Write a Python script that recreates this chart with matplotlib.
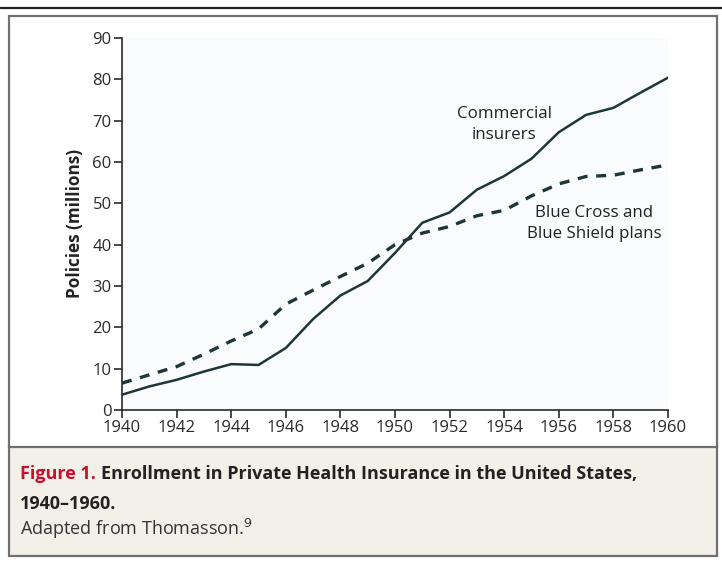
import matplotlib
matplotlib.use('Agg')
import matplotlib.pyplot as plt
from matplotlib.patches import Rectangle
from matplotlib.lines import Line2D

plt.rcParams['font.family'] = ['Open Sans', 'DejaVu Sans']

# data
years = list(range(1940, 1961))
commercial = [3.7, 5.7, 7.3, 9.3, 11.1, 10.9, 15.0, 22.0, 27.7, 31.2, 38.0,
              45.3, 47.8, 53.3, 56.6, 60.8, 67.2, 71.4, 73.1, 76.8, 80.4]
blue_cross = [6.5, 8.5, 10.5, 13.5, 16.7, 19.6, 25.6, 29.0, 32.3, 35.5, 40.0,
              42.8, 44.4, 47.0, 48.3, 51.8, 54.7, 56.5, 56.8, 58.1, 59.3]
xticks = list(range(1940, 1961, 2))
yticks = list(range(0, 91, 10))

W, H = 722, 561
fig = plt.figure(figsize=(W / 100, H / 100), dpi=100)
fig.patch.set_facecolor('white')


def fx(px):
    return px / W


def fy(py):
    return 1 - py / H


# frame: top rule, outer box, caption panel
fig.add_artist(Line2D([0, 1], [fy(8), fy(8)], color='#222222', lw=1.6))
fig.add_artist(Rectangle((fx(9), fy(447)), fx(717) - fx(9), fy(16) - fy(447),
                         facecolor='white', edgecolor='none', zorder=0))
fig.add_artist(Rectangle((fx(9), fy(556)), fx(717) - fx(9), fy(447) - fy(556),
                         facecolor='#f3f0ea', edgecolor='none', zorder=0))
fig.add_artist(Rectangle((fx(9), fy(556)), fx(717) - fx(9), fy(16) - fy(556),
                         facecolor='none', edgecolor='#707070', lw=1.6, zorder=5))
fig.add_artist(Line2D([fx(9), fx(717)], [fy(447), fy(447)], color='#707070', lw=1.6))

ax = fig.add_axes([fx(122), fy(410), fx(668) - fx(122), fy(38) - fy(410)])
ax.set_facecolor('#fafbfd')
line_col = '#1e3638'
ax.plot(years, commercial, color=line_col, lw=1.8, solid_joinstyle='round')
ax.plot(years, blue_cross, color=line_col, lw=2.4, dashes=(3.0, 2.6))

ax.set_xlim(1940, 1960)
ax.set_ylim(0, 90)
ax.set_xticks(xticks)
ax.set_yticks(yticks)
ax.tick_params(axis='both', direction='out', length=6, width=1.2, colors='#2a2a2a',
               labelsize=12, pad=1.5)
for s in ['top', 'right']:
    ax.spines[s].set_visible(False)
for s in ['left', 'bottom']:
    ax.spines[s].set_color('#2a2a2a')
    ax.spines[s].set_linewidth(1.2)
ax.set_ylabel('Policies (millions)', fontsize=12.3, fontweight='bold', color='#222222', labelpad=6)

ax.text(1954.0, 69.1, 'Commercial\ninsurers', ha='center', va='center', fontsize=12.2,
        color='#222222', linespacing=1.4)
ax.text(1957.3, 45.1, 'Blue Cross and\nBlue Shield plans', ha='center', va='center',
        fontsize=12.2, color='#222222', linespacing=1.4)

# caption
renderer = fig.canvas.get_renderer()
cap_size = 13.0
t1 = fig.text(fx(20), fy(479), 'Figure 1.', color='#c8102e', fontsize=cap_size, fontweight='bold')
bb = t1.get_window_extent(renderer)
fig.text(bb.x1 / W + fx(5), fy(479), 'Enrollment in Private Health Insurance in the United States,',
         color='#222222', fontsize=cap_size, fontweight='bold')
fig.text(fx(20), fy(509), '1940\u20131960.', color='#222222', fontsize=cap_size, fontweight='bold')
fig.text(fx(20), fy(535), 'Adapted from Thomasson.$^9$', color='#333333', fontsize=cap_size)

fig.savefig('out.png', dpi=100)
